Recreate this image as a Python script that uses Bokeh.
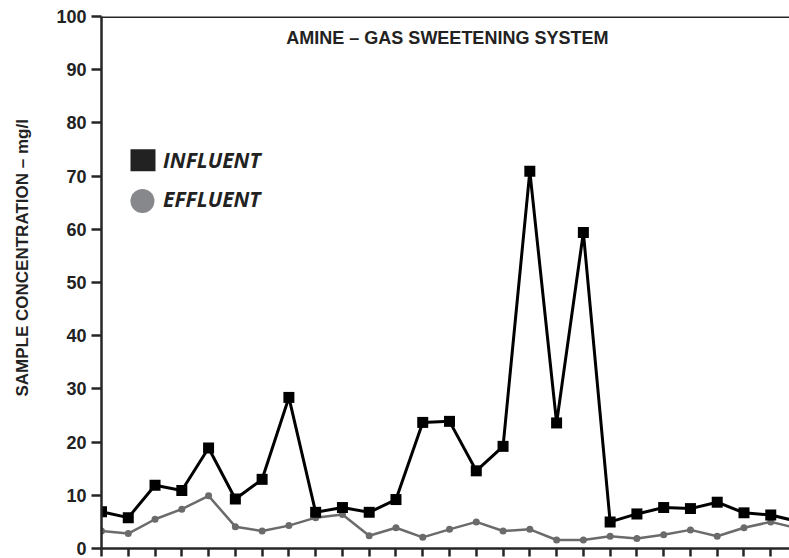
from bokeh.plotting import figure
from bokeh.models import Range1d, FixedTicker, Span, Label, Title, LinearAxis
from bokeh.embed import file_html
from bokeh.resources import INLINE

# ---- data ----
sample_index = list(range(27))
influent = [6.9, 5.8, 11.9, 10.9, 18.9, 9.3, 13.0, 28.4, 6.8, 7.7, 6.8, 9.2, 23.7,
            23.9, 14.6, 19.2, 70.9, 23.6, 59.4, 5.0, 6.5, 7.7, 7.5, 8.7, 6.7, 6.3, 5.1]
effluent = [3.3, 2.8, 5.5, 7.4, 9.9, 4.1, 3.3, 4.3, 5.8, 6.4, 2.4, 3.9, 2.1,
            3.6, 5.0, 3.3, 3.6, 1.6, 1.6, 2.3, 1.9, 2.6, 3.5, 2.3, 3.9, 5.0, 3.8]
y_ticks = list(range(0, 101, 10))
x_ticks = list(range(0, 27))
title_text = "AMINE \u2013 GAS SWEETENING SYSTEM"
y_label_text = "SAMPLE CONCENTRATION \u2013 mg/l"
legend_labels = ["INFLUENT", "EFFLUENT"]

AX = "#262626"
SANS = "Liberation Sans"

p = figure(width=789, height=558, output_backend="svg", toolbar_location=None,
           x_range=Range1d(0, 25.7), y_range=Range1d(0, 100),
           min_border_left=101, min_border_right=0, min_border_top=16, min_border_bottom=10)
p.outline_line_color = None
p.background_fill_color = "white"
p.border_fill_color = "white"
p.xgrid.visible = False
p.ygrid.visible = False

# y axis
ya = p.yaxis[0]
ya.ticker = FixedTicker(ticks=y_ticks)
ya.axis_line_color = AX
ya.axis_line_width = 2.5
ya.major_tick_line_color = AX
ya.major_tick_line_width = 2.5
ya.major_tick_out = 10
ya.major_tick_in = 0
ya.minor_tick_line_color = None
ya.major_label_standoff = 5
ya.major_label_text_font = SANS
ya.major_label_text_font_style = "bold"
ya.major_label_text_font_size = "18px"
ya.major_label_text_color = "#222222"

# x axis (ticks only, no labels)
xa = p.xaxis[0]
xa.ticker = FixedTicker(ticks=x_ticks)
xa.axis_line_color = AX
xa.axis_line_width = 2.5
xa.major_tick_line_color = AX
xa.major_tick_line_width = 2.5
xa.major_tick_out = 8
xa.major_tick_in = 0
xa.minor_tick_line_color = None
xa.major_label_overrides = {t: "" for t in x_ticks}
xa.major_label_standoff = 0

# invisible spacer between tick labels and the axis title
spacer = LinearAxis(ticker=FixedTicker(ticks=[50]), axis_line_color=None,
                    major_tick_line_color=None, minor_tick_line_color=None,
                    major_tick_out=22, major_tick_in=0, major_label_standoff=0,
                    major_label_overrides={50: ""})
p.add_layout(spacer, "left")

# y axis title (placed along the axis like the reference)
p.add_layout(Title(text=y_label_text, align="left", offset=152, standoff=0,
                   text_font=SANS, text_font_style="bold", text_font_size="17px",
                   text_color="#222222"), "left")

# top border line
p.add_layout(Span(location=100, dimension="width", line_color=AX, line_width=3))

# series
p.line(sample_index, effluent, line_color="#6b6b6b", line_width=2.5)
p.scatter(sample_index, effluent, marker="circle", size=7, fill_color="#6b6b6b", line_color=None)
p.line(sample_index, influent, line_color="#000000", line_width=3)
p.scatter(sample_index, influent, marker="square", size=11, fill_color="#000000", line_color=None)

# legend (manual, to match reference look)
p.rect(x=[1.55], y=[73.0], width=25, height=22, width_units="screen", height_units="screen",
       fill_color="#222222", line_color=None)
p.scatter(x=[1.53], y=[65.3], marker="circle", size=24, fill_color="#87888c", line_color=None)
for txt, ly in zip(legend_labels, [73.1, 65.7]):
    p.add_layout(Label(x=2.30, y=ly, text=txt, text_font="Open Sans", text_font_style="bold italic",
                       text_font_size="21px", text_color="#222222",
                       text_align="left", text_baseline="middle"))

# title inside plot
p.add_layout(Label(x=12.92, y=95.9, text=title_text, text_font=SANS, text_font_style="bold",
                   text_font_size="18px", text_color="#222222",
                   text_align="center", text_baseline="middle"))

open("out.html", "w").write(file_html(p, INLINE))
